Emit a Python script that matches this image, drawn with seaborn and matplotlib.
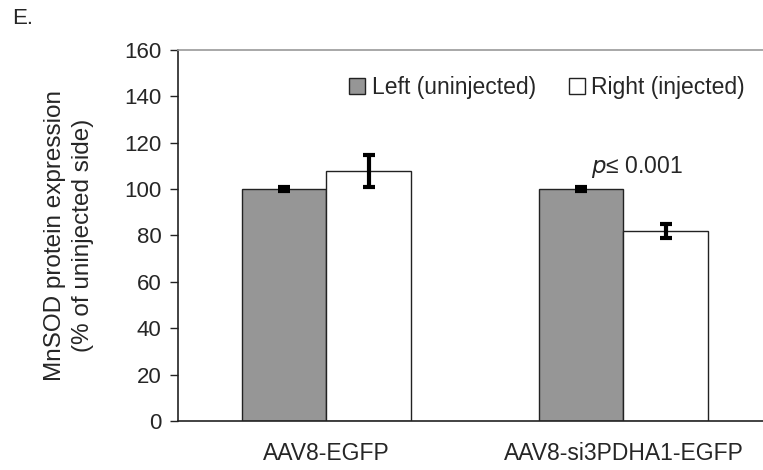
import pandas as pd
import matplotlib.pyplot as plt
import seaborn as sns

# values
groups = ['AAV8-EGFP', 'AAV8-si3PDHA1-EGFP']
sides = ['Left (uninjected)', 'Right (injected)']
left_vals = [100, 100]
left_err = [1.0, 1.0]
right_vals = [107.8, 82.0]
right_err = [6.8, 3.0]
yticks = [0, 20, 40, 60, 80, 100, 120, 140, 160]

sns.set_style('white')
plt.rcParams['font.family'] = ['Liberation Sans', 'DejaVu Sans']

df = pd.DataFrame({
    'group': groups * 2,
    'side': [sides[0]] * 2 + [sides[1]] * 2,
    'value': left_vals + right_vals,
})

fig = plt.figure(figsize=(7.63, 4.70), dpi=100)
ax = fig.add_axes([0.2333, 0.1043, 0.7667, 0.7893])

sns.barplot(data=df, x='group', y='value', hue='side', order=groups, hue_order=sides,
            palette=['#969696', '#ffffff'], width=0.57, errorbar=None,
            edgecolor='#222222', linewidth=1.0, saturation=1, ax=ax)

# error bars on top of each bar
errs = left_err + right_err
for patch, val, err in zip(ax.patches, left_vals + right_vals, errs):
    cx = patch.get_x() + patch.get_width() / 2
    ax.errorbar(cx, val, yerr=err, fmt='none', ecolor='black',
                elinewidth=3, capsize=4, capthick=3, zorder=5)

ax.set_ylim(0, 160)
ax.set_xlim(-0.5, 1.47)
ax.set_yticks(yticks)
ax.set_yticklabels([str(t) for t in yticks], fontsize=16)
ax.set_xticks([0.5], minor=True)
ax.set_xticks([0, 1])
ax.set_xticklabels(groups, fontsize=16.5)
ax.tick_params(axis='x', which='major', length=0, pad=15)
ax.tick_params(axis='x', which='minor', length=4, width=1, color='#222222', direction='out')
ax.tick_params(axis='y', length=6, width=1, color='#222222', direction='out', pad=6, left=True)
ax.set_xlabel('')
ax.set_ylabel('MnSOD protein expression\n(% of uninjected side)', fontsize=17.5, labelpad=22,
              linespacing=1.3)

for s in ['left', 'bottom']:
    ax.spines[s].set_color('#222222')
    ax.spines[s].set_linewidth(1.2)
ax.spines['top'].set_color('#999999')
ax.spines['top'].set_linewidth(1.2)
ax.spines['right'].set_visible(False)

ax.legend(loc='upper right', bbox_to_anchor=(0.985, 0.955), ncol=2, frameon=False,
          fontsize=16.5, handlelength=0.7, handleheight=0.7, handletextpad=0.3,
          columnspacing=1.4, borderaxespad=0)

ax.text(1.0 + 0.045, 104, r'$p$' + '\u2264 0.001', fontsize=16.5, ha='center', va='bottom')
fig.text(0.016, 0.983, 'E.', fontsize=16, ha='left', va='top')

fig.savefig('out.png', dpi=100)
